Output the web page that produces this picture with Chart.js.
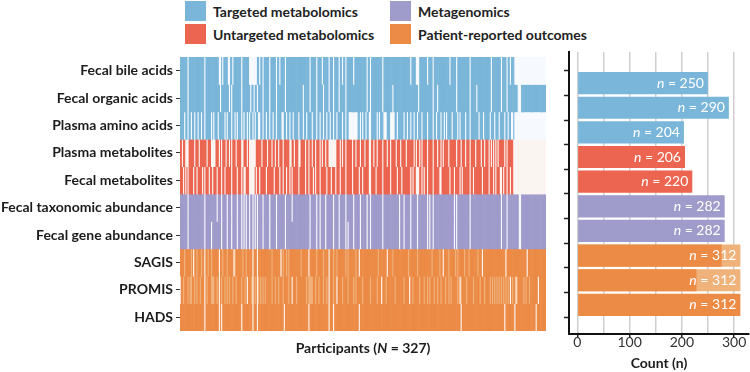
<!DOCTYPE html>
<html>
<head>
<meta charset="utf-8">
<script src="https://cdn.jsdelivr.net/npm/chart.js@4.4.0/dist/chart.umd.min.js"></script>
<style>
  body { margin: 0; background: #fff; }
  #wrap { position: relative; width: 750px; height: 372px; overflow: hidden; font-family: Lato, sans-serif; }
  #heat { position: absolute; left: 0; top: 0; }
  #bars { position: absolute; left: 550px; top: 0; }
  .lg { position: absolute; height: 20px; display: flex; align-items: center; font: bold 14px Lato, sans-serif; color: #222; white-space: nowrap; }
  .lg i { display: inline-block; width: 21px; height: 20px; margin-right: 7px; }
</style>
</head>
<body>
<div id="wrap">
  <div class="lg" style="left:185px;top:1px"><i style="background:#7ab6d9"></i>Targeted metabolomics</div>
  <div class="lg" style="left:185px;top:24px"><i style="background:#eb6550"></i>Untargeted metabolomics</div>
  <div class="lg" style="left:390px;top:1px"><i style="background:#9f9bcb"></i>Metagenomics</div>
  <div class="lg" style="left:390px;top:24px"><i style="background:#ec8b46"></i>Patient-reported outcomes</div>
  <canvas id="heat" width="560" height="372"></canvas>
  <canvas id="bars" width="200" height="372"></canvas>
</div>
<script>
const N = 327;
const rows = ['Fecal bile acids', 'Fecal organic acids', 'Plasma amino acids', 'Plasma metabolites',
  'Fecal metabolites', 'Fecal taxonomic abundance', 'Fecal gene abundance', 'SAGIS', 'PROMIS', 'HADS'];
const rowGroup = [0, 0, 0, 1, 1, 2, 2, 3, 3, 3];
const totals = [250, 290, 204, 206, 220, 282, 282, 312, 312, 312];
const complete = [null, null, null, null, null, null, null, 276, 228, null];
const xTicks = [0, 50, 100, 150, 200, 250, 300];

// last participant column with data, per row (0-based)
const lastObserved = [298, 326, 298, 297, 297, 326, 326, 326, 326, 326];

// missing participant columns (0-based)
const missBile = [7,22,35,36,38,43,44,47,55,62,63,64,65,66,67,68,71,74,80,86,89,94,116,122,127,133,137,142,145,148,155,
  167,170,181,206,211,212,213,221,226,241,247,259,278,287,292,295];
const missOrganic = [7,22,36,44,46,55,63,66,69,74,80,86,94,110,116,122,128,133,137,142,148,167,170,181,190,213,226,230,
  247,259,265,278,287,292,302,303,304];
const missAmino = [4,7,10,13,16,19,22,28,30,34,40,42,46,49,51,55,57,60,62,65,67,70,71,74,77,80,83,86,91,92,95,98,101,106,
  110,113,118,122,125,128,131,134,137,140,145,148,151,152,153,154,155,156,157,158,161,163,166,169,170,176,178,182,183,184,
  188,189,190,191,194,200,203,206,209,212,216,221,226,229,233,236,238,243,248,250,255,259,267,271,277,281,285,290,293,296,297];
const missPlasma = [2,5,6,7,13,17,24,28,29,30,31,35,37,41,44,46,50,55,56,60,62,63,64,65,66,67,73,78,82,85,88,92,98,99,102,
  106,107,112,115,118,121,125,127,130,133,134,135,136,137,138,139,143,145,148,154,157,161,165,169,170,173,176,181,185,188,
  193,197,202,209,211,214,216,221,226,230,233,235,240,247,251,255,259,264,269,272,276,278,280,282,284,290,292];
const missFecalMet = [3,5,7,12,15,20,22,26,29,33,37,40,46,51,55,57,58,62,63,64,65,66,68,71,77,84,89,92,95,98,100,106,112,
  115,119,121,125,131,135,139,143,148,154,160,163,169,170,175,181,188,194,198,206,208,211,212,213,216,218,221,226,232,233,
  241,245,250,252,259,262,270,276,280,282,286,287,289,292,295];
const missTaxa = [7,22,33,37,42,46,51,55,57,59,62,65,67,69,74,80,86,94,100,116,122,125,130,137,142,148,155,161,167,170,181,
  196,200,206,212,221,223,226,245,247,259,287,292,303,304];
const missGene = [7,22,28,37,42,46,51,55,57,59,62,65,67,69,74,80,86,94,116,122,125,130,137,142,148,150,155,161,167,170,181,
  196,200,206,212,221,223,226,245,247,259,287,292,303,304];
const missSagis = [12,22,35,48,65,69,90,115,133,160,185,235,270,291,310];
const missPromis = [0,22,35,60,65,69,100,133,140,180,205,250,295,300,320];
const missHads = [22,35,37,55,65,69,93,115,133,137,160,251,290,299,318];
const missing = [missBile, missOrganic, missAmino, missPlasma, missFecalMet, missTaxa, missGene, missSagis, missPromis, missHads];

// columns answered only in part (lighter orange)
const partSagis = [4,10,15,19,25,28,38,42,49,56,59,82,92,95,97,108,122,128,137,140,148,150,157,177,190,204,212,225,232,240,
  246,248,254,258,266];
const partPromis = [3,7,9,10,13,15,18,24,28,29,30,33,37,40,42,44,47,50,55,58,64,67,70,72,74,76,82,85,88,92,97,104,113,115,
  116,117,118,121,124,128,131,137,145,150,155,157,163,170,176,184,192,200,208,214,218,221,223,227,230,233,237,240,242,248,
  251,256,262,268,272,277,279,281,283,285,287,289,291,293,297,301,307,309,312];
const partial = [[], [], [], [], [], [], [], partSagis, partPromis, []];

const groupColors = ['#7ab6d9', '#eb6550', '#9f9bcb', '#ec8b46'];
const missColors = ['#f6fafe', '#fbf5f2', '#f9f8fc', '#fdf6f0'];
const partColor = '#f0b27b';

const participants = Array.from({length: N}, (_, j) => String(j + 1));

const heatSets = rows.map((r, i) => {
  const g = rowGroup[i];
  const miss = new Set(missing[i]);
  const part = new Set(partial[i]);
  return {
    label: r,
    data: participants.map(() => 1),
    backgroundColor: participants.map((p, j) =>
      (j > lastObserved[i] || miss.has(j)) ? missColors[g] : part.has(j) ? partColor : groupColors[g]),
    borderWidth: 0,
    barPercentage: 1,
    categoryPercentage: 1
  };
});

const TXT = '#1c1c1c';

const xTitle = {
  id: 'xTitle',
  afterDraw(chart) {
    const ctx = chart.ctx, a = chart.chartArea;
    const parts = [['Participants (', 'bold 14px Lato'], ['N', 'italic bold 14px Lato'], [' = 327)', 'bold 14px Lato']];
    ctx.save();
    let w = 0;
    parts.forEach(p => { ctx.font = p[1]; w += ctx.measureText(p[0]).width; });
    let x = (a.left + a.right) / 2 - w / 2;
    ctx.fillStyle = TXT; ctx.textBaseline = 'middle'; ctx.textAlign = 'left';
    parts.forEach(p => { ctx.font = p[1]; ctx.fillText(p[0], x, 348); x += ctx.measureText(p[0]).width; });
    ctx.restore();
  }
};

new Chart(document.getElementById('heat'), {
  type: 'bar',
  data: { labels: participants, datasets: heatSets },
  options: {
    responsive: false,
    animation: false,
    layout: { padding: { top: 57, right: 14, bottom: 41, left: 0 } },
    plugins: { legend: { display: false }, tooltip: { enabled: false } },
    scales: {
      x: { type: 'category', display: false, stacked: true },
      y: {
        type: 'linear', min: 0, max: 10, reverse: true, stacked: true,
        afterBuildTicks: s => { s.ticks = rows.map((r, i) => ({ value: i + 0.5 })); },
        afterFit: s => { s.width = 180; },
        ticks: { autoSkip: false, padding: 3, color: TXT, font: { family: 'Lato', size: 14, weight: 'bold' },
          callback: (v, i) => rows[i] },
        grid: { drawOnChartArea: false, tickLength: 4, tickColor: '#333', tickWidth: 1 },
        border: { display: false }
      }
    }
  },
  plugins: [xTitle]
});

const barLabels = {
  id: 'barLabels',
  afterDatasetsDraw(chart) {
    const ctx = chart.ctx;
    const meta = chart.getDatasetMeta(1);
    ctx.save();
    ctx.fillStyle = '#fff'; ctx.textBaseline = 'middle'; ctx.textAlign = 'right';
    meta.data.forEach((bar, i) => {
      const rest = ' = ' + totals[i];
      ctx.font = '14px Lato';
      const w = ctx.measureText(rest).width;
      const xr = bar.x - 4;
      ctx.fillText(rest, xr, bar.y);
      ctx.font = 'italic 14px Lato';
      ctx.fillText('n', xr - w, bar.y);
    });
    ctx.restore();
  }
};

const totalColors = rows.map((r, i) => complete[i] != null ? partColor : groupColors[rowGroup[i]]);

new Chart(document.getElementById('bars'), {
  type: 'bar',
  data: {
    datasets: [
      { data: complete.map((c, i) => ({ x: c, y: i })), backgroundColor: groupColors[3],
        grouped: false, categoryPercentage: 1, barPercentage: 0.9, borderWidth: 0 },
      { data: totals.map((c, i) => ({ x: c, y: i })), backgroundColor: totalColors,
        grouped: false, categoryPercentage: 1, barPercentage: 0.9, borderWidth: 0 }
    ]
  },
  options: {
    indexAxis: 'y',
    responsive: false,
    animation: false,
    layout: { padding: { top: 52, right: 1, bottom: 0, left: 0 } },
    plugins: { legend: { display: false }, tooltip: { enabled: false } },
    scales: {
      x: {
        type: 'linear', min: -16, max: 328.5,
        afterBuildTicks: s => { s.ticks = xTicks.map(v => ({ value: v })); },
        afterFit: s => { s.height = 38; },
        ticks: { padding: -4, maxRotation: 0, color: '#333', font: { family: 'Lato', size: 14 },
          callback: v => v % 100 === 0 ? String(v) : '' },
        grid: { color: '#cfcfcf', lineWidth: 1.5, tickLength: 4,
          tickColor: c => (c.tick && c.tick.value % 100 === 0) ? '#222' : 'rgba(0,0,0,0)' },
        border: { color: '#111', width: 2 },
        title: { display: true, text: 'Count (n)', color: TXT, padding: 0,
          font: { family: 'Lato', size: 14, weight: 'bold' } }
      },
      y: {
        type: 'linear', min: -0.69, max: 9.61, reverse: true,
        afterBuildTicks: s => { s.ticks = rows.map((r, i) => ({ value: i })); },
        afterFit: s => { s.width = 19; },
        ticks: { display: false },
        grid: { drawOnChartArea: false, tickLength: 5, tickColor: '#222', tickWidth: 1.5 },
        border: { color: '#111', width: 2 }
      }
    }
  },
  plugins: [barLabels]
});
</script>
</body>
</html>
